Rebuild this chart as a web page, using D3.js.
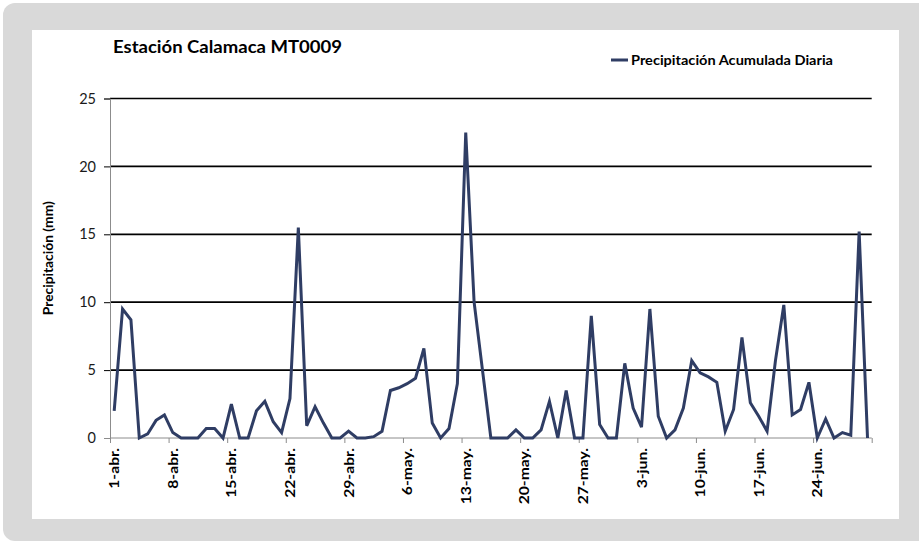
<!DOCTYPE html>
<html>
<head>
<meta charset="utf-8">
<script src="https://cdn.jsdelivr.net/npm/d3@7"></script>
<style>
  html, body { margin: 0; padding: 0; background: #ffffff; }
  svg { display: block; }
</style>
</head>
<body>
<svg id="chart" width="919" height="543"></svg>
<script>
// Daily accumulated precipitation, 1 April – 30 June (mm)
const startDate = new Date(2013, 3, 1);
const precipitation = [
  2.0, 9.5, 8.7, 0, 0.3, 1.3, 1.7, 0.4, 0, 0,
  0, 0.7, 0.7, 0, 2.5, 0, 0, 2.0, 2.7, 1.2,
  0.4, 2.9, 15.5, 0.9, 2.3, 1.1, 0, 0, 0.5, 0,
  0, 0.1, 0.5, 3.5, 3.7, 4.0, 4.4, 6.6, 1.1, 0,
  0.7, 4.0, 22.5, 10.0, 5.0, 0, 0, 0, 0.6, 0,
  0, 0.6, 2.7, 0, 3.5, 0, 0, 9.0, 1.0, 0,
  0, 5.5, 2.2, 0.8, 9.5, 1.6, 0, 0.6, 2.2, 5.7,
  4.8, 4.5, 4.1, 0.5, 2.1, 7.4, 2.6, 1.6, 0.5, 5.7,
  9.8, 1.7, 2.1, 4.1, 0, 1.4, 0, 0.4, 0.2, 15.2,
  0
];
const xTickLabels = ["1-abr.", "8-abr.", "15-abr.", "22-abr.", "29-abr.", "6-may.",
  "13-may.", "20-may.", "27-may.", "3-jun.", "10-jun.", "17-jun.", "24-jun."];
const yTicks = [0, 5, 10, 15, 20, 25];
const titleText = "Estación Calamaca MT0009";
const seriesName = "Precipitación Acumulada Diaria";
const yAxisTitle = "Precipitación (mm)";

const days = d3.timeDay.range(startDate, d3.timeDay.offset(startDate, precipitation.length));
const data = days.map((d, i) => ({ date: d, value: precipitation[i], i }));

const svg = d3.select("#chart");
const font = "Lato, 'Open Sans', 'Liberation Sans', sans-serif";
const lineColor = "#2f3d64";

// frame
svg.append("rect").attr("x", 3).attr("y", 3).attr("width", 930).attr("height", 538)
  .attr("rx", 12).attr("fill", "#d9d9d9");
svg.append("rect").attr("x", 32).attr("y", 30).attr("width", 867).attr("height", 489)
  .attr("fill", "#ffffff");

const plotLeft = 110, plotRight = 871.7, plotTop = 98.5, plotBottom = 438;
const x = d3.scaleLinear().domain([0, data.length]).range([plotLeft, plotRight]);
const y = d3.scaleLinear().domain([0, 25]).range([plotBottom, plotTop]);

// gridlines
svg.append("g").selectAll("line").data(yTicks.filter(v => v > 0)).join("line")
  .attr("x1", plotLeft).attr("x2", plotRight)
  .attr("y1", d => y(d)).attr("y2", d => y(d))
  .attr("stroke", "#000").attr("stroke-width", 1.7);

// y axis
const yAxis = svg.append("g").attr("transform", `translate(${plotLeft},0)`)
  .call(d3.axisLeft(y).tickValues(yTicks).tickSize(6).tickPadding(8));
yAxis.select(".domain").attr("stroke", "#8c8c8c");
yAxis.selectAll(".tick line").attr("stroke", d => d === 0 ? "#8c8c8c" : "#000");
yAxis.selectAll(".tick text").attr("font-family", font).attr("font-size", 14.5)
  .attr("fill", "#1a1a1a");

// x axis: ticks on weekly category boundaries, labels on category centres
const tickIdx = d3.range(0, data.length + 1, 7).concat(data.length % 7 ? [data.length] : []);
const xAxis = svg.append("g").attr("transform", `translate(0,${plotBottom})`)
  .call(d3.axisBottom(x).tickValues(tickIdx).tickSize(5).tickFormat(""));
xAxis.select(".domain").attr("stroke", "#8c8c8c").attr("d", `M${plotLeft},0H${plotRight}`);
xAxis.selectAll(".tick line").attr("stroke", "#8c8c8c");

svg.append("g").selectAll("text").data(xTickLabels).join("text")
  .attr("transform", (d, k) => `translate(${x(k * 7 + 0.5) + 5},${plotBottom + 10}) rotate(-90)`)
  .attr("text-anchor", "end")
  .attr("font-family", font).attr("font-weight", "bold").attr("font-size", 14)
  .attr("fill", "#000").text(d => d)
  .each(function () {
    // condensed-style labels: stretched along the baseline
    const w = this.getComputedTextLength();
    d3.select(this).attr("textLength", w * 1.12).attr("lengthAdjust", "spacingAndGlyphs");
  });

// series line
const line = d3.line().x(d => x(d.i + 0.5)).y(d => y(d.value));
svg.append("path").datum(data).attr("d", line)
  .attr("fill", "none").attr("stroke", lineColor).attr("stroke-width", 3)
  .attr("stroke-linejoin", "miter");

// title
svg.append("text").attr("x", 113).attr("y", 53)
  .attr("font-family", font).attr("font-weight", "bold").attr("font-size", 16.5)
  .attr("textLength", 229).attr("lengthAdjust", "spacingAndGlyphs")
  .attr("fill", "#000").text(titleText);

// legend
svg.append("line").attr("x1", 611).attr("x2", 628).attr("y1", 60).attr("y2", 60)
  .attr("stroke", lineColor).attr("stroke-width", 3);
svg.append("text").attr("x", 631).attr("y", 64.5)
  .attr("font-family", font).attr("font-weight", "bold").attr("font-size", 13)
  .attr("textLength", 202).attr("lengthAdjust", "spacingAndGlyphs")
  .attr("fill", "#000").text(seriesName);

// y axis title
svg.append("text")
  .attr("transform", `translate(53,${(plotTop + plotBottom) / 2 - 10}) rotate(-90)`)
  .attr("text-anchor", "middle")
  .attr("font-family", font).attr("font-weight", "bold").attr("font-size", 12.5)
  .attr("textLength", 114).attr("lengthAdjust", "spacingAndGlyphs")
  .attr("fill", "#000").text(yAxisTitle);
</script>
</body>
</html>
